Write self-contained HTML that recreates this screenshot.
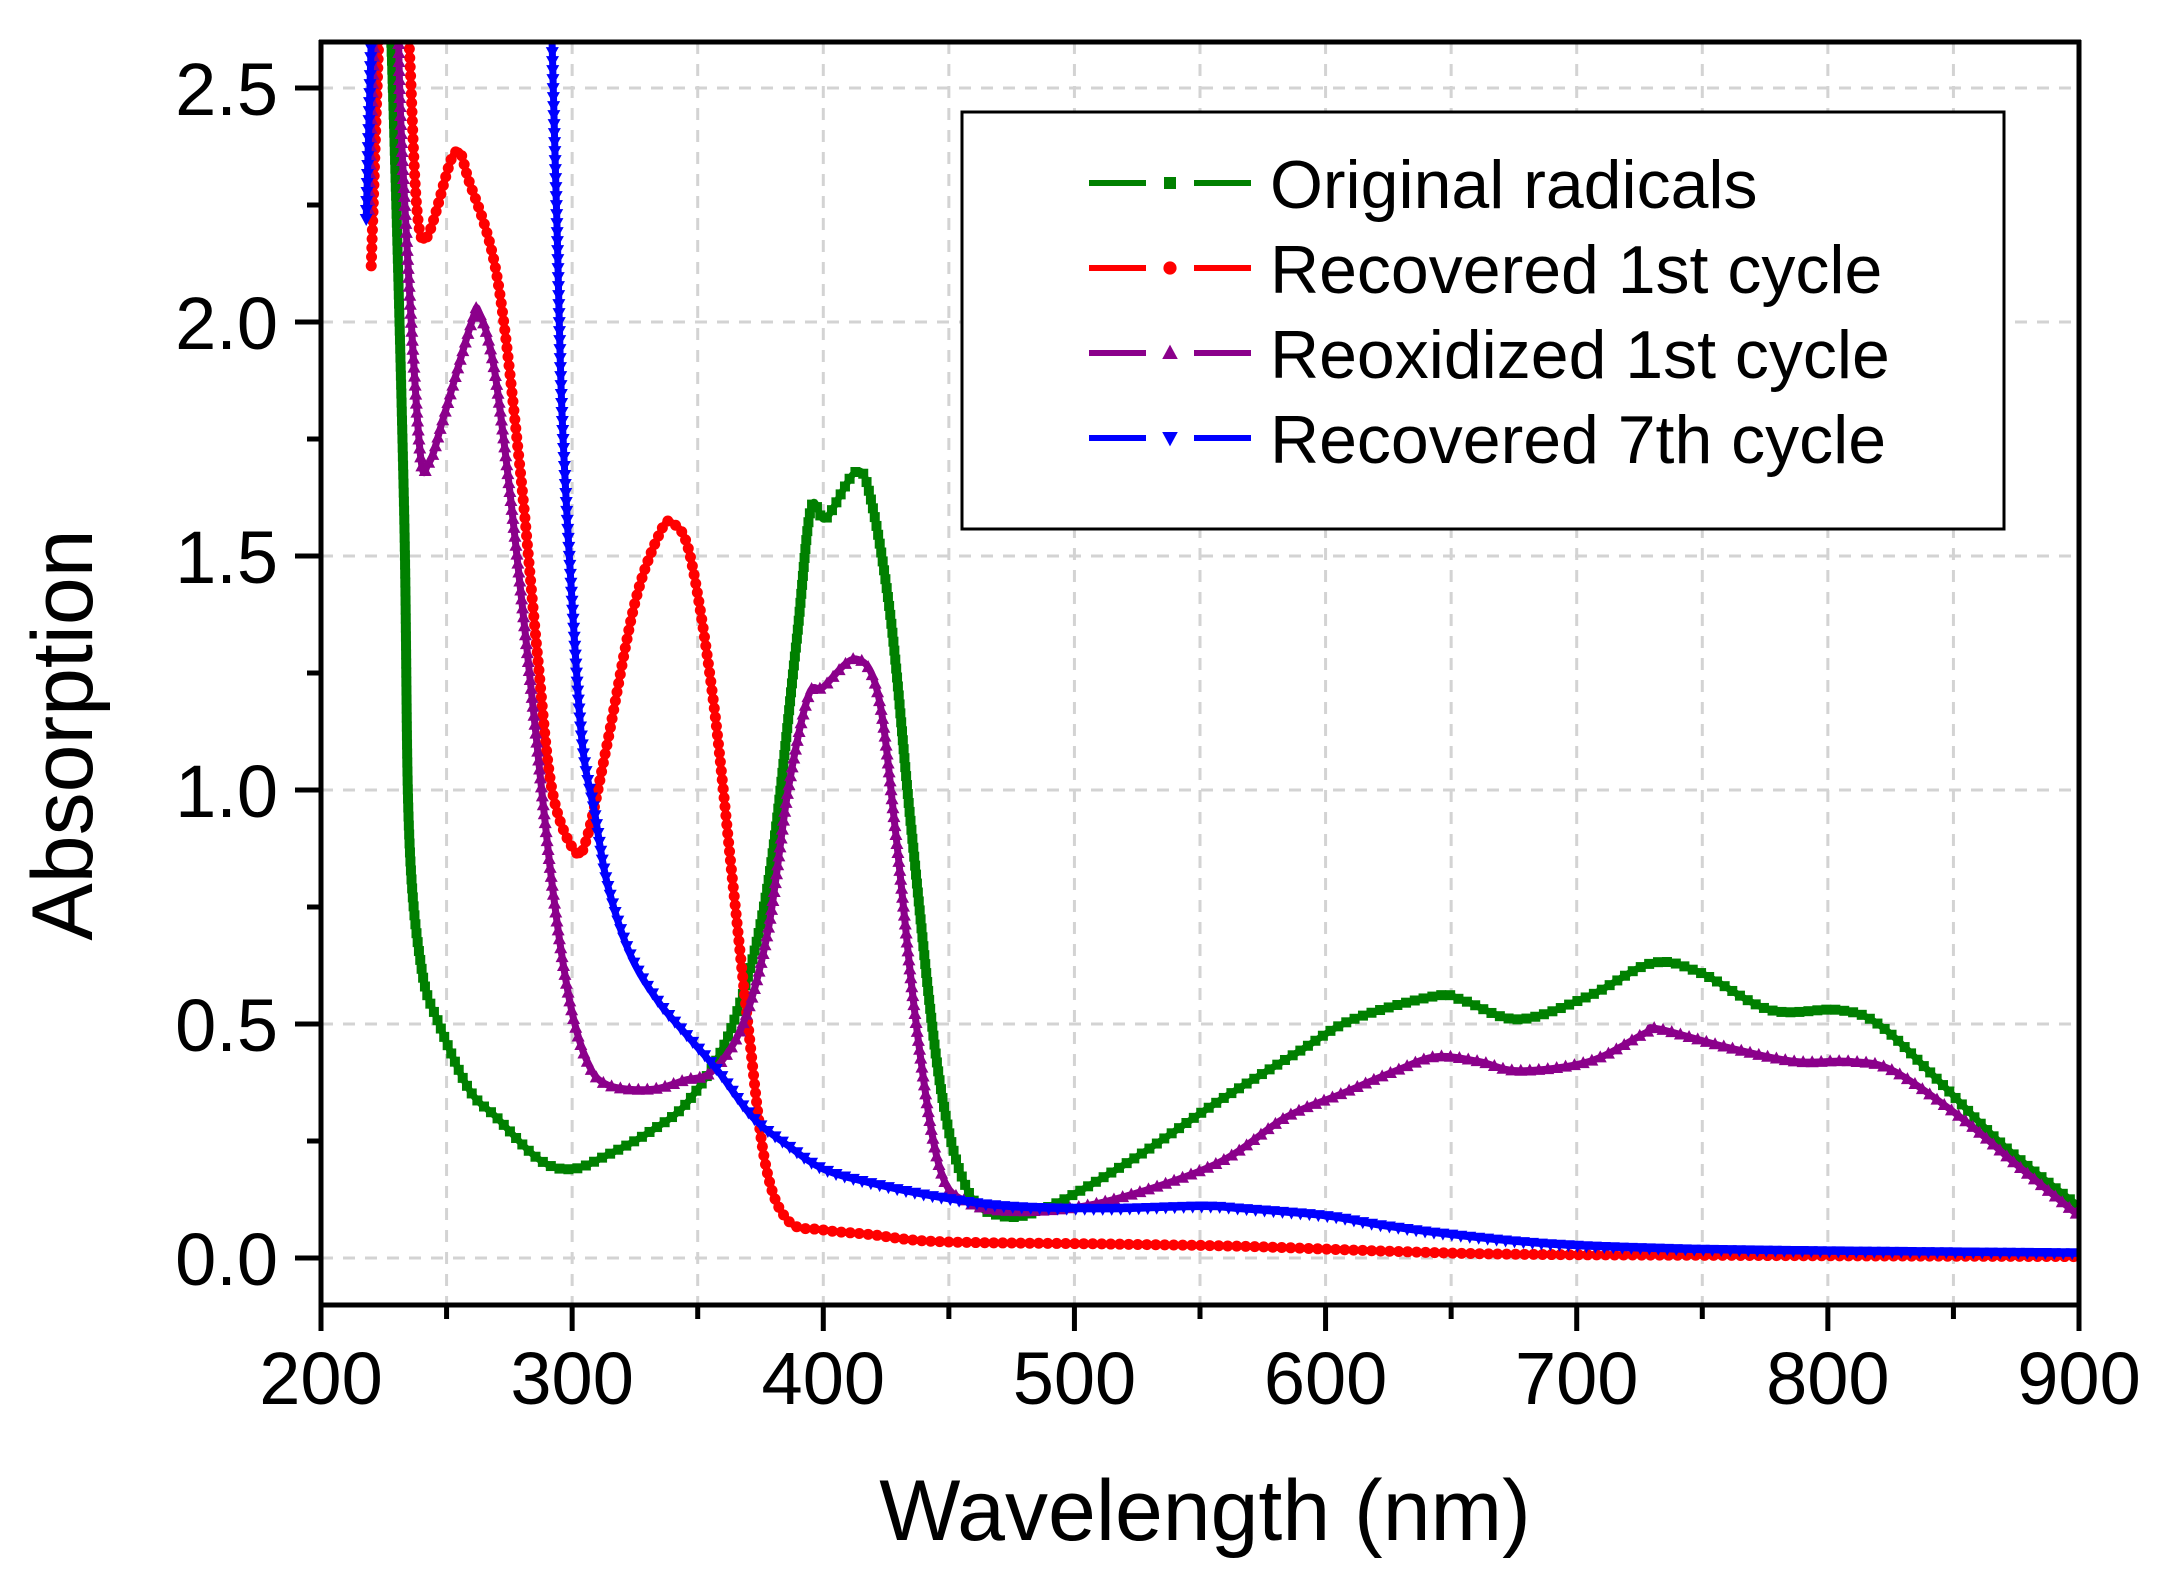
<!DOCTYPE html>
<html><head><meta charset="utf-8"><style>
html,body{margin:0;padding:0;background:#fff;}
svg{display:block;font-family:"Liberation Sans",Arial,sans-serif;}
</style></head><body>
<svg id="chart" width="2165" height="1589" viewBox="0 0 2165 1589" xmlns="http://www.w3.org/2000/svg">
<defs><clipPath id="plotclip"><rect x="321" y="42" width="1758" height="1263"/></clipPath></defs>
<g id="grid"></g>
<g id="series" clip-path="url(#plotclip)"></g>
<g id="axes"></g>
<text x="1205" y="1540" font-size="86" text-anchor="middle">Wavelength (nm)</text>
<text transform="translate(92,735) rotate(-90)" font-size="86" text-anchor="middle">Absorption</text>
<g id="legend">
<rect x="962" y="112" width="1042" height="417" fill="#fff" stroke="#000" stroke-width="3"/>
</g>
</svg>
<script>
const xTicks=[200,300,400,500,600,700,800,900];
const yTicks=[0,0.5,1.0,1.5,2.0,2.5];
const yTickLabels=["0.0","0.5","1.0","1.5","2.0","2.5"];
const seriesNames=["Original radicals","Recovered 1st cycle","Reoxidized 1st cycle","Recovered 7th cycle"];
const seriesColors=["#008000","#ff0000","#8b008b","#0000ff"];
const greenX=[224,228,233,235,240,247,259,270,287,300,314,331,347,364,378,389,395,401,413,419,427,435,446,457,471,490,523,556,589,611,644,655,677,705,730,749,777,804,820,842,870,900];
const greenY=[3.0,2.6,1.62,0.92,0.62,0.50,0.36,0.30,0.21,0.19,0.22,0.27,0.34,0.50,0.80,1.30,1.60,1.58,1.68,1.62,1.36,0.92,0.39,0.15,0.09,0.11,0.21,0.33,0.44,0.51,0.56,0.55,0.51,0.56,0.63,0.61,0.53,0.53,0.50,0.39,0.24,0.11];
const redX=[220,223,226,231,235,240,253,259,270,279,286,292,301,306,314,325,335,340,347,356,364,370,377,386,400,419,446,512,567,622,677,787,900];
const redY=[2.12,2.6,3.0,3.0,2.6,2.18,2.36,2.30,2.10,1.70,1.30,1.00,0.87,0.90,1.10,1.40,1.55,1.57,1.50,1.20,0.80,0.50,0.20,0.08,0.06,0.05,0.035,0.03,0.025,0.015,0.008,0.005,0.003];
const purpleX=[219,222,226,230,232,239,243,249,260,263,269,276,284,292,299,306,314,331,345,356,368,378,386,394,400,413,422,429,437,446,457,479,512,556,584,606,628,644,661,677,705,727,732,760,787,809,826,853,875,900];
const purpleY=[2.24,2.7,3.0,2.8,2.4,1.75,1.70,1.80,2.00,2.02,1.90,1.60,1.20,0.80,0.55,0.42,0.37,0.36,0.38,0.40,0.50,0.70,1.00,1.20,1.22,1.28,1.20,0.90,0.50,0.20,0.12,0.10,0.12,0.20,0.30,0.35,0.40,0.43,0.42,0.40,0.42,0.48,0.49,0.45,0.42,0.42,0.40,0.30,0.20,0.09];
const blueX=[218,220,222,224,290,292,294,296,300,304,309,314,323,334,345,358,372,386,400,419,446,474,512,551,567,600,622,650,688,732,787,900];
const blueY=[2.22,2.6,3.0,3.2,3.2,2.6,2.2,1.8,1.4,1.1,0.95,0.80,0.65,0.55,0.48,0.40,0.30,0.24,0.19,0.16,0.13,0.11,0.105,0.11,0.105,0.09,0.07,0.05,0.03,0.02,0.015,0.01];
const allX=[greenX,redX,purpleX,blueX], allY=[greenY,redY,purpleY,blueY];
const markers=["square","circle","up","down"];

const NS="http://www.w3.org/2000/svg";
const X0=321,X1=2079,Y0=1258,PXU=468;
const sx=v=>X0+(v-200)/700*(X1-X0);
const sy=v=>Y0-v*PXU;
function mk(tag,attrs,parent){const e=document.createElementNS(NS,tag);for(const k in attrs)e.setAttribute(k,attrs[k]);parent.appendChild(e);return e;}
const grid=document.getElementById('grid'),axes=document.getElementById('axes'),series=document.getElementById('series'),legend=document.getElementById('legend');

for(let v=250;v<900;v+=50){const l=mk('line',{x1:sx(v),x2:sx(v),y1:42,y2:1305,stroke:'#d3d3d3','stroke-width':3,'stroke-dasharray':'12,10'},grid);

}
yTicks.forEach(v=>{const l=mk('line',{x1:X0,x2:X1,y1:sy(v),y2:sy(v),stroke:'#d3d3d3','stroke-width':3,'stroke-dasharray':'12,10'},grid);

});

function marker(type,x,y,color,s,parent){let e;
if(type==='square')e=mk('rect',{x:x-s,y:y-s,width:2*s,height:2*s,fill:color},parent);
else if(type==='circle')e=mk('circle',{cx:x,cy:y,r:s*1.1,fill:color},parent);
else if(type==='up')e=mk('polygon',{points:`${x},${y-s*1.4} ${x-s*1.3},${y+s} ${x+s*1.3},${y+s}`,fill:color},parent);
else e=mk('polygon',{points:`${x},${y+s*1.4} ${x-s*1.3},${y-s} ${x+s*1.3},${y-s}`,fill:color},parent);
return e;}

function pathD(xs,ys){const p=xs.map((x,i)=>[sx(x),sy(ys[i])]);let d=`M${p[0][0]},${p[0][1]}`;
for(let i=0;i<p.length-1;i++){const p0=p[Math.max(0,i-1)],p1=p[i],p2=p[i+1],p3=p[Math.min(p.length-1,i+2)];
const c1=[p1[0]+(p2[0]-p0[0])/6,p1[1]+(p2[1]-p0[1])/6],c2=[p2[0]-(p3[0]-p1[0])/6,p2[1]-(p3[1]-p1[1])/6];
d+=` C${c1[0]},${c1[1]} ${c2[0]},${c2[1]} ${p2[0]},${p2[1]}`;}return d;}

allX.forEach((xs,si)=>{const g=mk('g',{},series);


const path=mk('path',{d:pathD(xs,allY[si]),fill:'none',stroke:seriesColors[si],'stroke-width':7,'stroke-linejoin':'round'},g);


const L=path.getTotalLength();
for(let t=0;t<L;t+=9){const pt=path.getPointAtLength(t);const m=marker(markers[si],pt.x,pt.y,seriesColors[si],5,g);

}
});

mk('line',{x1:X0,x2:X0,y1:40,y2:1307,stroke:'#000','stroke-width':5},axes);
mk('line',{x1:X1,x2:X1,y1:40,y2:1307,stroke:'#000','stroke-width':5},axes);
mk('line',{x1:X0-2,x2:X1+2,y1:42,y2:42,stroke:'#000','stroke-width':5},axes);
mk('line',{x1:X0-2,x2:X1+2,y1:1305,y2:1305,stroke:'#000','stroke-width':5},axes);
for(let v=200;v<=900;v+=50){const major=v%100===0;mk('line',{x1:sx(v),x2:sx(v),y1:1305,y2:1305+(major?26:14),stroke:'#000','stroke-width':5},axes);}
xTicks.forEach(v=>{const t=mk('text',{x:sx(v),y:1404,'font-size':74,'text-anchor':'middle'},axes);t.textContent=v;

});
for(let v=0;v<=2.5001;v+=0.25){const major=Math.abs(v*2-Math.round(v*2))<1e-6;mk('line',{x1:X0,x2:X0-(major?26:14),y1:sy(v),y2:sy(v),stroke:'#000','stroke-width':5},axes);}
yTicks.forEach((v,i)=>{const t=mk('text',{x:278,y:sy(v)+27,'font-size':74,'text-anchor':'end'},axes);t.textContent=yTickLabels[i];

});

const rowsY=[183,268,353,438];
seriesNames.forEach((n,i)=>{const g=mk('g',{},legend);


mk('line',{x1:1089,x2:1146,y1:rowsY[i],y2:rowsY[i],stroke:seriesColors[i],'stroke-width':6},g);
mk('line',{x1:1194,x2:1251,y1:rowsY[i],y2:rowsY[i],stroke:seriesColors[i],'stroke-width':6},g);
marker(markers[i],1170,rowsY[i],seriesColors[i],6,g);
const t=mk('text',{x:1270,y:rowsY[i]+25,'font-size':68},g);t.textContent=n;});
</script>
</body></html>
